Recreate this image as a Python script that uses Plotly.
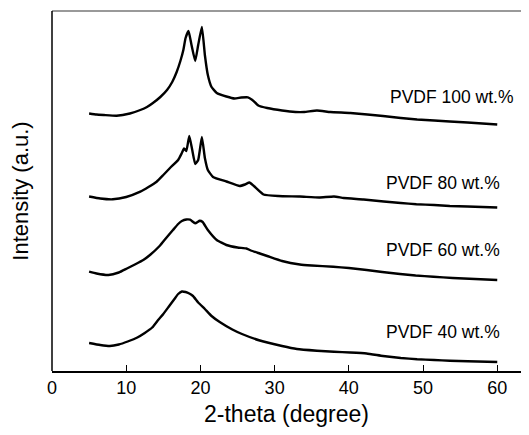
import plotly.graph_objects as go

# 2-theta (degree) and intensity (a.u., offset-stacked as in the figure)
x100 = [5.0, 6.0, 7.0, 8.7, 10.5, 11.9, 12.8, 13.6, 14.6, 15.5, 16.2, 16.8, 17.3, 17.7, 18.0, 18.4, 18.8, 19.3, 19.7, 20.2, 20.6, 21.0, 21.5, 22.2, 23.5, 24.6, 25.5, 26.4, 27.0, 27.8, 29.0, 31.0, 32.8, 34.0, 35.7, 37.5, 40.2, 42.5, 44.6, 47.0, 49.2, 51.5, 53.6, 56.0, 58.0, 60.0]
y100 = [257.5, 256.5, 256, 255.3, 257.5, 261, 264, 268, 274, 281, 289, 299, 310, 321, 333, 340, 326, 310, 326, 344, 316, 296, 284, 278, 274.5, 272.5, 273.5, 273.7, 271, 265.5, 263, 260.5, 259, 259, 260.5, 259, 258, 256.5, 255, 253, 251.5, 250.5, 249.5, 248.5, 247.5, 246.5]

x80 = [5.0, 6.5, 8.2, 10.0, 11.9, 13.0, 14.1, 15.0, 15.9, 17.0, 17.5, 17.8, 18.1, 18.5, 18.9, 19.3, 19.7, 20.2, 20.6, 21.0, 21.7, 23.5, 25.3, 26.0, 26.6, 27.2, 28.5, 30.5, 33.4, 36.0, 38.0, 39.3, 42.0, 44.7, 47.0, 49.1, 51.5, 53.6, 56.0, 58.0, 60.0]
y80 = [174.5, 172.5, 171.7, 174, 179.3, 184, 189.3, 196, 203, 211, 218, 222.5, 220, 235, 221, 207, 211, 234, 213, 201, 194, 189.5, 185, 186.5, 188.5, 185, 176.5, 175, 174.5, 173.5, 174.5, 173, 171.5, 169.5, 168, 166.7, 166, 165, 164.5, 164, 163.5]

x60 = [5.0, 6.0, 7.6, 9.0, 10.1, 11.3, 12.3, 13.2, 14.5, 15.5, 16.3, 17.0, 17.5, 18.1, 18.6, 19.3, 19.9, 20.3, 21.0, 22.2, 23.5, 25.0, 26.2, 26.8, 28.0, 29.0, 31.0, 33.4, 35.0, 37.9, 40.0, 42.4, 44.5, 46.9, 49.0, 51.4, 54.0, 57.0, 60.0]
y60 = [99.3, 97.5, 96, 98.5, 102.5, 107, 111, 116, 125, 134, 141, 147, 150, 151.5, 151.3, 147.7, 150.2, 149, 141, 131, 126, 123.5, 122.5, 120.5, 117.5, 115, 110, 106.5, 105.5, 104.3, 103, 101, 99, 97, 95.5, 94.3, 93, 92, 91]

x40 = [5.0, 6.5, 7.8, 9.0, 10.2, 11.5, 12.5, 13.5, 14.3, 15.0, 15.7, 16.5, 17.0, 17.5, 18.0, 18.5, 19.0, 19.7, 20.6, 21.5, 22.6, 24.3, 25.6, 28.0, 31.0, 33.0, 35.7, 38.0, 40.2, 42.4, 44.6, 47.0, 49.2, 51.5, 53.6, 56.0, 60.0]
y40 = [28, 26, 25, 26.5, 29.5, 33.5, 38, 43.5, 51, 57, 64, 72, 77, 79.5, 79, 77.5, 75, 68.5, 62, 55, 49, 41.5, 37, 30.5, 25, 22, 20.3, 19.2, 18.5, 17.5, 15, 13, 11.7, 11, 10.3, 9.7, 9]

labels = ["PVDF 100 wt.%", "PVDF 80 wt.%", "PVDF 60 wt.%", "PVDF 40 wt.%"]
label_x = [45.3, 44.8, 44.8, 44.8]
label_y = [274, 188, 121, 39]

xticks = [0, 10, 20, 30, 40, 50, 60]

FONT = "Liberation Sans, Arial, sans-serif"

fig = go.Figure()
for xs, ys in [(x100, y100), (x80, y80), (x60, y60), (x40, y40)]:
    fig.add_trace(go.Scatter(x=xs, y=ys, mode="lines",
                             line=dict(color="black", width=2.4, shape="spline", smoothing=0.4),
                             showlegend=False, hoverinfo="skip"))

for t, lx, ly in zip(labels, label_x, label_y):
    fig.add_annotation(x=lx, y=ly, text=t, showarrow=False, xanchor="left",
                       yanchor="middle", font=dict(family=FONT, size=17.5, color="black"))

# frame: gray top edge and black left edge
fig.add_shape(type="line", xref="paper", yref="paper", x0=0, x1=1, y0=1, y1=1,
              line=dict(color="#777777", width=1.5))
fig.add_shape(type="line", xref="paper", yref="paper", x0=0, x1=0, y0=0, y1=1,
              line=dict(color="black", width=1.5))

# page body has an 8px default margin; the figure fits inside it without overflow
fig.update_layout(
    width=513, height=419,
    margin=dict(l=44, r=0, t=3, b=56),
    paper_bgcolor="white", plot_bgcolor="white",
    font=dict(family=FONT, color="black"),
    xaxis=dict(range=[0, 63.2], tickvals=xticks, ticks="inside", ticklen=6,
               tickwidth=1.2, tickcolor="black", showline=True, linecolor="black",
               linewidth=1.5, showgrid=False, zeroline=False, automargin=False,
               tickfont=dict(size=18, family=FONT),
               title=dict(text="2-theta (degree)", font=dict(size=23, family=FONT), standoff=14)),
    yaxis=dict(range=[0, 360], showticklabels=False, ticks="", showline=False,
               showgrid=False, zeroline=False, automargin=False,
               title=dict(text="Intensity (a.u.)", font=dict(size=22, family=FONT), standoff=17)),
)

fig.write_html("out.html")
